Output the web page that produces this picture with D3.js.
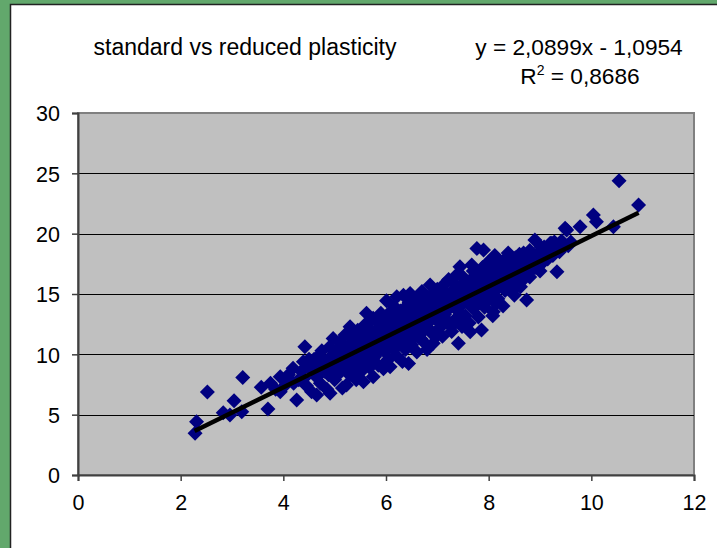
<!DOCTYPE html>
<html><head><meta charset="utf-8">
<script src="https://cdn.jsdelivr.net/npm/d3@7"></script>
<style>
html,body{margin:0;padding:0;background:#fff;}
svg{display:block;}
text{font-family:"Liberation Sans",Arial,sans-serif;fill:#000;}
</style></head>
<body>
<svg id="chart" width="717" height="548"></svg>
<script>
const title = "standard vs reduced plasticity";
const equationLines = ["y = 2,0899x - 1,0954", "R2 = 0,8686"];
const xTicks = [0, 2, 4, 6, 8, 10, 12];
const yTicks = [0, 5, 10, 15, 20, 25, 30];
const trendSlope = 2.0899;
const trendIntercept = -1.0954;
const trendRange = [2.27, 10.92];
// [standard, reduced] pairs
const points = [
[2.28,3.45],[2.31,4.42],[2.52,6.88],[2.83,5.16],[2.96,4.97],[3.04,6.16],[3.19,5.25],[3.21,8.09],[3.57,7.27],[3.70,5.47],
[3.75,7.6],[3.85,7.1],[3.94,8.14],[3.94,6.9],[4.05,7.5],[4.1,8.3],[4.19,8.84],[4.26,6.21],[4.3,7.9],[4.35,8.6],
[4.39,9.39],[4.42,10.63],[4.45,7.4],[4.5,8.9],[4.55,6.9],[4.6,9.6],[4.65,6.63],[4.65,8.1],[4.7,9.9],[4.72,7.6],
[4.75,10.3],[4.8,8.6],[4.82,9.2],[4.85,7.1],[4.9,10.6],[4.91,6.77],[4.95,8.9],[4.97,11.32],[5.0,9.8],[5.0,7.9],
[5.05,10.4],[5.08,8.4],[5.1,11.0],[5.12,9.3],[5.15,7.2],[5.18,10.0],[5.2,11.6],[5.23,7.46],[5.25,9.0],[5.28,10.8],
[5.3,12.29],[5.3,8.3],[5.35,9.7],[5.38,11.3],[5.4,10.3],[5.42,7.9],[5.45,12.0],[5.48,9.2],[5.5,10.9],[5.52,8.6],
[5.55,11.7],[5.56,7.73],[5.58,10.0],[5.6,12.5],[5.62,13.4],[5.62,9.4],[5.65,11.2],[5.68,8.9],[5.7,12.0],[5.72,10.5],
[5.75,8.14],[5.75,13.0],[5.78,9.8],[5.8,11.6],[5.82,12.7],[5.85,9.1],[5.88,10.9],[5.9,13.4],[5.92,11.9],[5.95,8.8],
[5.98,10.2],[6.0,12.6],[6.01,14.44],[6.02,11.3],[6.05,9.6],[6.08,8.97],[6.08,13.1],[6.1,10.6],[6.12,12.0],[6.15,14.0],
[6.18,11.5],[6.2,9.9],[6.21,14.77],[6.22,12.9],[6.25,10.9],[6.28,13.6],[6.3,11.8],[6.32,9.4],[6.34,14.9],[6.35,12.4],
[6.38,10.4],[6.4,13.2],[6.42,11.4],[6.44,9.25],[6.45,14.3],[6.47,15.05],[6.48,12.0],[6.5,10.8],[6.52,13.7],[6.55,11.9],
[6.58,12.8],[6.6,10.2],[6.62,14.6],[6.65,13.0],[6.68,11.3],[6.7,15.2],[6.72,12.3],[6.73,11.04],[6.75,14.0],[6.78,13.1],
[6.8,10.4],[6.82,12.6],[6.85,14.8],[6.86,15.74],[6.88,13.6],[6.9,11.7],[6.92,10.91],[6.95,14.3],[6.98,12.9],[7.0,15.4],
[7.02,13.8],[7.05,12.2],[7.08,14.9],[7.1,11.5],[7.12,15.74],[7.14,13.3],[7.18,14.4],[7.2,12.6],[7.22,16.2],[7.25,13.9],
[7.28,11.9],[7.3,15.3],[7.32,14.6],[7.35,12.9],[7.38,16.6],[7.4,13.6],[7.41,10.91],[7.44,17.26],[7.45,15.1],[7.48,12.3],
[7.5,14.2],[7.52,16.0],[7.55,13.2],[7.58,15.6],[7.6,14.7],[7.62,12.6],[7.64,11.87],[7.67,17.4],[7.68,16.3],[7.7,13.8],
[7.72,15.0],[7.75,14.2],[7.77,18.78],[7.78,16.8],[7.8,13.1],[7.82,15.5],[7.85,14.6],[7.86,12.01],[7.88,17.2],[7.9,18.64],
[7.9,16.0],[7.92,13.9],[7.95,15.2],[7.98,17.6],[8.0,14.6],[8.03,17.26],[8.05,16.3],[8.08,13.2],[8.09,13.53],[8.09,17.54],
[8.1,15.6],[8.12,18.2],[8.15,16.9],[8.18,14.6],[8.2,15.9],[8.22,17.4],[8.25,16.4],[8.28,14.0],[8.3,17.8],[8.32,15.3],
[8.35,16.8],[8.38,18.4],[8.4,15.8],[8.42,18.09],[8.45,17.1],[8.48,16.1],[8.5,14.9],[8.52,17.6],[8.55,17.81],[8.58,16.6],
[8.6,18.3],[8.62,15.6],[8.65,17.2],[8.7,16.3],[8.72,18.0],[8.74,14.5],[8.78,17.5],[8.8,18.6],[8.82,16.9],[8.85,17.8],
[8.9,19.47],[8.92,17.2],[8.95,18.3],[9.0,16.9],[9.02,18.9],[9.05,17.6],[9.1,18.4],[9.15,17.9],[9.2,19.2],[9.23,19.2],
[9.25,18.2],[9.3,18.8],[9.33,16.85],[9.38,18.5],[9.42,19.4],[9.45,18.9],[9.49,20.44],[9.52,20.3],[9.55,19.0],[9.6,19.3],
[9.78,20.57],[10.04,21.54],[10.1,20.99],[10.43,20.57],[10.54,24.38],[10.92,22.37],
[5.05,9.3],[5.15,10.5],[5.25,9.6],[5.35,10.9],[5.45,10.6],[5.55,10.2],[5.65,10.6],[5.75,11.0],[5.85,11.4],[5.95,11.2],
[6.05,11.8],[6.15,12.6],[6.25,12.1],[6.35,11.0],[6.45,12.9],[6.55,12.4],[6.65,12.0],[6.75,13.5],[6.85,13.2],[6.95,13.0],
[7.05,14.1],[7.15,13.0],[7.25,14.8],[7.35,14.1],[7.45,14.7],[7.55,14.9],[7.65,15.3],[7.75,15.8],[7.85,15.1],[7.95,16.4],
[8.05,15.1],[8.15,15.4],[8.25,17.0],[8.35,15.9],[8.45,16.5],[8.55,16.1],[8.65,16.6],[8.75,17.1],[8.85,18.1],[8.95,17.5],
[6.05,12.3],[6.5,13.2],[7.0,14.6],[6.2,11.2],[6.6,11.6],[7.2,13.7],[5.9,12.3],[6.3,13.0],[6.7,12.8],[7.1,14.3],
[7.6,15.9],[8.1,16.6],[5.5,11.4],[5.2,10.3],[4.9,9.7],[4.6,8.6],[4.4,8.0],[4.2,7.6],
[4.5,9.6],[4.62,9.1],[4.78,9.5],[4.88,8.3],[4.98,10.3],[5.02,8.7],[5.14,9.8],[5.22,8.6],[5.32,11.7],[5.44,9.6],
[5.54,9.0],[5.64,11.8],[5.7,9.4],[5.84,10.2],[5.94,12.8],[5.98,9.3],[6.1,13.6],[6.18,10.5],[6.28,12.6],[6.38,13.9],
[6.4,10.9],[6.52,11.3],[6.58,14.1],[6.7,11.8],[6.78,14.5],[6.84,12.1],[6.92,15.0],[6.98,11.5],[7.06,13.3],[7.12,12.6],
[7.2,15.0],[7.3,12.4],[7.36,15.7],[7.44,13.0],[7.5,16.4],[7.56,14.4],[7.66,14.0],[7.7,16.9],[7.8,14.2],[7.84,16.5],
[7.94,14.6],[8.0,16.0],[8.06,17.9],[8.14,14.2],[8.2,17.2],[8.3,15.7],[8.36,17.3],[8.46,15.3],[8.52,18.0],[8.6,17.0],
[8.68,18.4],[8.8,16.4],[8.88,17.4],[9.0,18.4],[9.08,18.9],[9.18,18.6],[9.28,19.3],[9.4,19.0],[5.36,8.8],[5.6,10.9],
[5.8,10.4],[6.0,11.0],[6.22,13.3],[6.45,11.6],[6.62,13.4],[6.9,13.9],[7.15,14.8],[7.4,14.3],[7.7,15.4],[7.9,16.9]
];

const svg = d3.select("#chart");
// outer frame
svg.append("rect").attr("x",0).attr("y",0).attr("width",717).attr("height",548).attr("fill","#62a86c");
svg.append("rect").attr("x",10.5).attr("y",4.5).attr("width",720).attr("height",560)
  .attr("fill","#fff").attr("stroke","#222").attr("stroke-width",1.5);

const plot = {left:78, top:113, right:694, bottom:475};
const x = d3.scaleLinear().domain([0,12]).range([plot.left, plot.right]);
const y = d3.scaleLinear().domain([0,30]).range([plot.bottom, plot.top]);

svg.append("rect").attr("x",plot.left).attr("y",plot.top)
  .attr("width",plot.right-plot.left).attr("height",plot.bottom-plot.top)
  .attr("fill","#c0c0c0").attr("stroke","#808080").attr("stroke-width",2);

// gridlines
svg.append("g").selectAll("line").data(yTicks.filter(d=>d>0 && d<30)).join("line")
  .attr("x1",plot.left).attr("x2",plot.right)
  .attr("y1",d=>Math.round(y(d))+0.5).attr("y2",d=>Math.round(y(d))+0.5)
  .attr("stroke","#000").attr("stroke-width",1);

// axes
const xAxis = svg.append("g").attr("transform",`translate(0,${plot.bottom})`)
  .call(d3.axisBottom(x).tickValues(xTicks).tickSize(6).tickPadding(14).tickFormat(d3.format("d")));
const yAxis = svg.append("g").attr("transform",`translate(${plot.left},0)`)
  .call(d3.axisLeft(y).tickValues(yTicks).tickSize(6).tickPadding(12).tickFormat(d3.format("d")));
[xAxis,yAxis].forEach(a=>{
  a.select(".domain").attr("stroke","#404040").attr("stroke-width",2);
  a.selectAll(".tick line").attr("stroke","#404040").attr("stroke-width",1.5);
  a.selectAll("text").attr("font-size",21.5).attr("font-family","'Liberation Sans',Arial,sans-serif").attr("fill","#000");
});
yAxis.selectAll("text").attr("dy","0.36em");

// points
const diamond = "M0,-7.5L7.5,0L0,7.5L-7.5,0Z";
svg.append("g").selectAll("path").data(points).join("path")
  .attr("d",diamond)
  .attr("transform",d=>`translate(${x(d[0])},${y(d[1])})`)
  .attr("fill","#000080");

// trendline
svg.append("line")
  .attr("x1",x(trendRange[0])).attr("y1",y(trendSlope*trendRange[0]+trendIntercept))
  .attr("x2",x(trendRange[1])).attr("y2",y(trendSlope*trendRange[1]+trendIntercept))
  .attr("stroke","#000").attr("stroke-width",4.5);

// title
svg.append("text").attr("x",245).attr("y",55).attr("text-anchor","middle")
  .attr("font-size",23).text(title);

// equation
svg.append("text").attr("x",579).attr("y",55).attr("text-anchor","middle")
  .attr("font-size",22.7).text(equationLines[0]);
const r2 = svg.append("text").attr("x",580).attr("y",84).attr("text-anchor","middle").attr("font-size",22.7);
r2.append("tspan").text("R");
r2.append("tspan").attr("font-size",14).attr("dy",-9).text("2");
r2.append("tspan").attr("dy",9).text(equationLines[1].slice(2));
</script>
</body></html>
